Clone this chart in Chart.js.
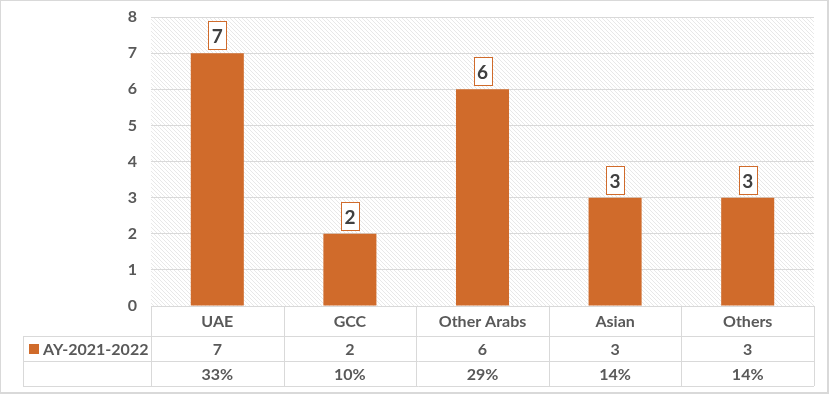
<!DOCTYPE html>
<html>
<head>
    <title>AY-2021-2022</title>
    <script src="https://cdn.jsdelivr.net/npm/chart.js"></script>
    <style>
        body {
            margin: 0;
            background-color: #ffffff;
        }

        #wrap {
            width: 829px;
            height: 394px;
            box-sizing: border-box;
            border: 1px solid #d9d9d9;
            border-right-width: 2px;
            border-bottom-width: 2px;
            position: relative;
        }
    </style>
</head>
<body>
    <div id="wrap">
        <canvas id="chart"></canvas>
    </div>

    <script>
        const categories = ['UAE', 'GCC', 'Other Arabs', 'Asian', 'Others'];
        const seriesName = 'AY-2021-2022';
        const students = [7, 2, 6, 3, 3];
        const shares = ['33%', '10%', '29%', '14%', '14%'];
        const yTicks = [0, 1, 2, 3, 4, 5, 6, 7, 8];

        const barColor = '#D06B2B';
        const textColor = '#595959';
        const lineColor = '#d9d9d9';
        const fontFamily = 'Lato, "Open Sans", sans-serif';

        // diagonal hatch behind the plot area
        function makeHatch(ctx) {
            const tile = document.createElement('canvas');
            tile.width = 4;
            tile.height = 4;
            const t = tile.getContext('2d');
            t.fillStyle = '#ffffff';
            t.fillRect(0, 0, 4, 4);
            t.strokeStyle = '#e8e8e8';
            t.lineWidth = 1;
            t.beginPath();
            t.moveTo(0, 0);
            t.lineTo(4, 4);
            t.moveTo(-1, 3);
            t.lineTo(1, 5);
            t.moveTo(3, -1);
            t.lineTo(5, 1);
            t.stroke();
            return ctx.createPattern(tile, 'repeat');
        }

        const hatchPlugin = {
            id: 'hatch',
            beforeDraw(chart) {
                const { ctx, chartArea } = chart;
                ctx.save();
                ctx.fillStyle = makeHatch(ctx);
                ctx.fillRect(chartArea.left, chartArea.top, chartArea.right - chartArea.left, chartArea.bottom - chartArea.top);
                ctx.restore();
            }
        };

        // boxed value labels above the bars
        const boxLabels = {
            id: 'boxLabels',
            afterDatasetsDraw(chart) {
                const { ctx } = chart;
                const meta = chart.getDatasetMeta(0);
                ctx.save();
                ctx.font = 'bold 19px ' + fontFamily;
                ctx.textAlign = 'center';
                ctx.textBaseline = 'middle';
                meta.data.forEach((bar, i) => {
                    const w = 18, h = 28;
                    const x = Math.round(bar.x - w / 2) + 0.5;
                    const y = Math.round(bar.y - 4 - h) + 0.5;
                    ctx.fillStyle = '#ffffff';
                    ctx.fillRect(x, y, w, h);
                    ctx.strokeStyle = barColor;
                    ctx.lineWidth = 1;
                    ctx.strokeRect(x, y, w, h);
                    ctx.fillStyle = '#404040';
                    ctx.fillText(String(students[i]), bar.x, y + h / 2 + 1);
                });
                ctx.restore();
            }
        };

        // data table under the x axis
        const dataTable = {
            id: 'dataTable',
            afterDraw(chart) {
                const { ctx, chartArea } = chart;
                const xs = chart.scales.x;
                const step = (chartArea.right - chartArea.left) / categories.length;
                const top = chartArea.bottom;
                const row1 = top + 30, row2 = row1 + 25, row3 = row2 + 25;
                const legendLeft = 22;
                ctx.save();
                ctx.strokeStyle = lineColor;
                ctx.lineWidth = 1;
                ctx.beginPath();
                ctx.moveTo(chartArea.left, top + 0.5);
                ctx.lineTo(chartArea.right, top + 0.5);
                [row1, row2, row3].forEach(y => {
                    ctx.moveTo(legendLeft, Math.round(y) + 0.5);
                    ctx.lineTo(chartArea.right, Math.round(y) + 0.5);
                });
                ctx.moveTo(legendLeft + 0.5, Math.round(row1));
                ctx.lineTo(legendLeft + 0.5, Math.round(row3));
                for (let i = 0; i <= categories.length; i++) {
                    const x = Math.round(chartArea.left + i * step) + 0.5;
                    ctx.moveTo(x, top);
                    ctx.lineTo(x, Math.round(row3));
                }
                ctx.stroke();

                ctx.fillStyle = textColor;
                ctx.font = 'bold 16px ' + fontFamily;
                ctx.textAlign = 'center';
                ctx.textBaseline = 'middle';
                categories.forEach((c, i) => {
                    const cx = xs.getPixelForValue(i);
                    ctx.fillText(c, cx, (top + row1) / 2 + 1);
                    ctx.fillText(String(students[i]), cx, (row1 + row2) / 2 + 1);
                    ctx.fillText(shares[i], cx, (row2 + row3) / 2 + 1);
                });

                // legend key
                ctx.fillStyle = barColor;
                ctx.fillRect(28, Math.round((row1 + row2) / 2) - 5, 10, 10);
                ctx.fillStyle = textColor;
                ctx.textAlign = 'left';
                ctx.fillText(seriesName, 42, (row1 + row2) / 2 + 1);
                ctx.restore();
            }
        };

        new Chart(document.getElementById('chart'), {
            type: 'bar',
            data: {
                labels: categories,
                datasets: [{
                    label: seriesName,
                    data: students,
                    backgroundColor: barColor,
                    categoryPercentage: 1,
                    barPercentage: 0.4
                }]
            },
            options: {
                responsive: true,
                maintainAspectRatio: false,
                animation: false,
                layout: {
                    padding: { top: 16, right: 13, bottom: 78, left: 0 }
                },
                scales: {
                    x: {
                        ticks: { display: false },
                        grid: { display: false },
                        border: { display: false }
                    },
                    y: {
                        min: 0,
                        max: 8,
                        afterFit(scale) {
                            scale.width = 150;
                            scale.paddingTop = 0;
                            scale.paddingBottom = 0;
                        },
                        afterBuildTicks(scale) { scale.ticks = yTicks.map(v => ({ value: v })); },
                        ticks: {
                            padding: 14,
                            color: textColor,
                            font: { family: fontFamily, size: 16, weight: 'bold' }
                        },
                        grid: { color: lineColor, drawTicks: false },
                        border: { display: false }
                    }
                },
                plugins: {
                    legend: { display: false },
                    tooltip: { enabled: false }
                }
            },
            plugins: [hatchPlugin, boxLabels, dataTable]
        });
    </script>
</body>
</html>
